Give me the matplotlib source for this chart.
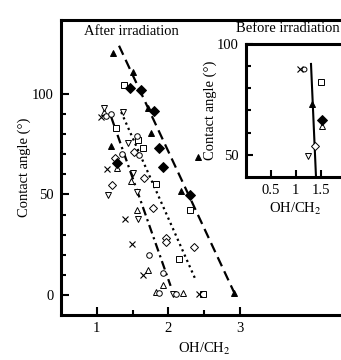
import matplotlib
matplotlib.use("Agg")
import matplotlib.pyplot as plt

plt.rcParams['font.family'] = ['Liberation Serif', 'DejaVu Serif']
plt.rcParams['mathtext.fontset'] = 'stix'

# ---- After irradiation data ----
tri_f_x = [1.23, 1.50, 1.72, 1.75, 1.20, 2.17, 2.41, 2.92]
tri_f_y = [120.2, 110.8, 92.9, 80.4, 74.0, 51.9, 68.8, 0.8]
dia_f_x = [1.47, 1.62, 1.80, 1.87, 1.93, 2.30, 1.28]
dia_f_y = [103.0, 102.0, 91.7, 73.0, 63.5, 49.8, 65.5]
sq_x = [1.38, 1.27, 1.57, 1.64, 1.83, 2.30, 2.15, 2.48]
sq_y = [104.5, 83.0, 77.0, 73.0, 55.0, 42.3, 17.7, 0.5]
dia_o_x = [1.25, 1.52, 1.21, 1.66, 1.79, 1.97, 1.97, 2.35]
dia_o_y = [68.0, 71.3, 54.7, 58.0, 43.3, 28.5, 26.5, 23.7]
tri_u_x = [1.10, 1.28, 1.48, 1.56, 1.72, 1.93, 1.83, 2.20]
tri_u_y = [91.0, 63.0, 56.7, 42.3, 12.2, 5.0, 1.6, 0.8]
tri_d_x = [1.10, 1.36, 1.43, 1.50, 1.15, 1.56, 1.58, 2.06]
tri_d_y = [93.0, 91.2, 75.8, 60.8, 49.8, 51.4, 37.6, 0.5]
cross_x = [1.06, 1.14, 1.39, 1.49, 1.65, 2.42]
cross_y = [88.3, 62.5, 37.6, 25.4, 10.0, 0.5]
circ_x = [1.13, 1.20, 1.56, 1.35, 1.59, 1.73, 1.92, 1.87, 2.11]
circ_y = [88.8, 90.0, 79.0, 70.0, 69.5, 20.0, 10.8, 0.8, 0.5]

dash_x = [1.31, 2.92]
dash_y = [124.0, 1.0]
dot_x = [1.34, 2.38]
dot_y = [91.0, 7.5]
dashdot_x = [1.20, 2.03]
dashdot_y = [88.6, 4.5]

# ---- Before irradiation data ----
b_cross_x, b_cross_y = [1.09], [88.5]
b_circ_x, b_circ_y = [1.17], [88.9]
b_sq_x, b_sq_y = [1.50], [82.9]
b_tri_f_x, b_tri_f_y = [1.33], [73.0]
b_dia_f_x, b_dia_f_y = [1.52], [65.5]
b_tri_u_x, b_tri_u_y = [1.52], [63.2]
b_dia_o_x, b_dia_o_y = [1.39], [54.1]
b_tri_d_x, b_tri_d_y = [1.25], [49.5]
b_line_x = [1.31, 1.41]
b_line_y = [91.0, 40.0]

FS = 10.5
W, H = 341, 360
fig = plt.figure(figsize=(W / 100, H / 100), dpi=100)

ax = fig.add_axes([61 / W, 45 / H, (0.5 + 4.0 * 71.5) / W, 295 / H])
ax.set_xlim(0.5, 4.5)
ax.set_ylim(-10, 136.8)


def scatter_set(a, data):
    for (xs, ys, m, filled, s) in data:
        if m == 'x':
            a.plot(xs, ys, linestyle='none', marker='x', ms=s * 0.85, mew=0.8, color='black')
        else:
            a.plot(xs, ys, linestyle='none', marker=m, ms=s,
                   mfc='black' if filled else 'white', mec='black', mew=0.7)


ms = 5.0
main_data = [
    (tri_u_x, tri_u_y, '^', False, ms),
    (tri_d_x, tri_d_y, 'v', False, ms),
    (dia_o_x, dia_o_y, 'D', False, ms * 0.85),
    (sq_x, sq_y, 's', False, ms * 0.85),
    (circ_x, circ_y, 'o', False, ms * 0.8),
    (cross_x, cross_y, 'x', False, ms),
    (dia_f_x, dia_f_y, 'D', True, ms * 0.95),
    (tri_f_x, tri_f_y, '^', True, ms),
]

ax.plot(dash_x, dash_y, color='black', lw=1.6, linestyle=(0, (4.5, 2.5)))
ax.plot(dot_x, dot_y, color='black', lw=1.6, linestyle=(0, (1, 1.6)))
ax.plot(dashdot_x, dashdot_y, color='black', lw=1.6, linestyle=(0, (4, 1.8, 1, 1.8)))
scatter_set(ax, main_data)

ax.set_xticks([1, 2, 3])
ax.set_xticks([1.5, 2.5], minor=True)
ax.set_yticks([0, 50, 100])
ax.set_yticks([10, 20, 30, 40, 60, 70, 80, 90], minor=True)
ax.tick_params(which='both', direction='in', width=1.5, labelsize=FS)
ax.tick_params(which='major', length=6, pad=5)
ax.tick_params(which='minor', length=3.5)
for s in ax.spines.values():
    s.set_linewidth(2.2)
ax.set_xlabel('OH/CH$_2$', fontsize=FS, labelpad=4)
ax.set_ylabel('Contact angle (°)', fontsize=FS, labelpad=1)
ax.text(1.48, 131.3, 'After irradiation', fontsize=FS, ha='center', va='center')
ax.text(3.66, 132.8, 'Before irradiation', fontsize=FS, ha='center', va='center')

# ---- inset ----
ins = fig.add_axes([245.5 / W, (H - 177) / H, 100 / W, 133 / H])
ins.set_xlim(0, 2)
ins.set_ylim(40, 100)
ins.plot(b_line_x, b_line_y, color='black', lw=1.5)
inset_data = [
    (b_tri_d_x, b_tri_d_y, 'v', False, ms),
    (b_dia_o_x, b_dia_o_y, 'D', False, ms * 0.85),
    (b_tri_u_x, b_tri_u_y, '^', False, ms),
    (b_dia_f_x, b_dia_f_y, 'D', True, ms * 0.95),
    (b_tri_f_x, b_tri_f_y, '^', True, ms),
    (b_sq_x, b_sq_y, 's', False, ms * 0.85),
    (b_cross_x, b_cross_y, 'x', False, ms),
    (b_circ_x, b_circ_y, 'o', False, ms * 0.7),
]
scatter_set(ins, inset_data)
ins.set_xticks([0.5, 1, 1.5])
ins.set_xticklabels(['0.5', '1', '1.5'])
ins.set_yticks([50, 100])
ins.set_yticks([60, 70, 80, 90], minor=True)
ins.tick_params(which='both', direction='in', width=1.5, labelsize=FS)
ins.tick_params(which='major', length=5, pad=5)
ins.tick_params(which='minor', length=3.5)
for s in ins.spines.values():
    s.set_linewidth(2.2)
ins.set_xlabel('OH/CH$_2$', fontsize=FS, labelpad=3)
ins.set_ylabel('Contact angle (°)', fontsize=FS, labelpad=0)

fig.savefig('out.png', dpi=100)
